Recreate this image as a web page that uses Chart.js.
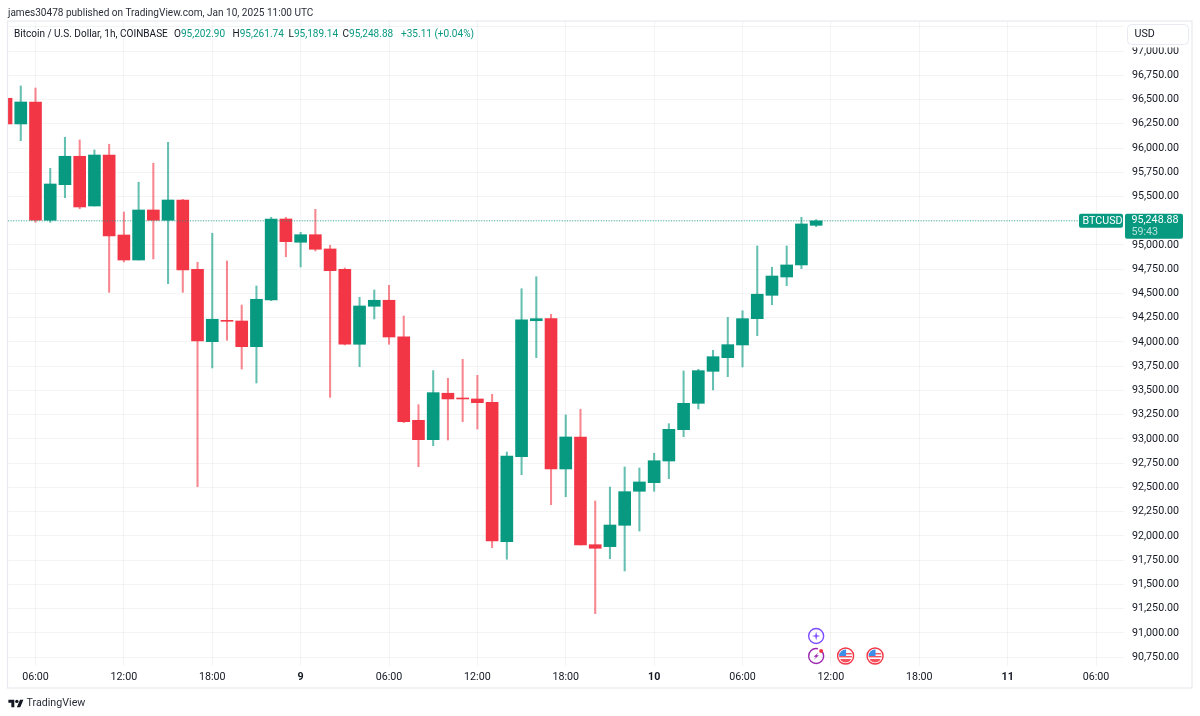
<!DOCTYPE html>
<html><head><meta charset="utf-8">
<script src="https://cdn.jsdelivr.net/npm/chart.js@4/dist/chart.umd.min.js"></script>
<style>
html,body{margin:0;padding:0;background:#fff;width:1200px;height:716px;overflow:hidden;font-family:Roboto,"Noto Sans",sans-serif;color:#131722}
canvas{position:absolute;left:0;top:0}
.t{position:absolute;white-space:nowrap;font-size:10.05px;line-height:14px}
.g{color:#089981}
</style></head><body>
<canvas id="c" width="1200" height="716"></canvas>
<div class="t" style="left:8px;top:5.5px;color:#2a2e39">james30478 published on TradingView.com, Jan 10, 2025 11:00 UTC</div>
<div class="t" style="left:14px;top:27px">Bitcoin / U.S. Dollar, 1h, COINBASE</div>
<div class="t" style="left:174px;top:27px">O<span class="g">95,202.90</span></div>
<div class="t" style="left:232.5px;top:27px">H<span class="g">95,261.74</span></div>
<div class="t" style="left:288.5px;top:27px">L<span class="g">95,189.14</span></div>
<div class="t" style="left:342.5px;top:27px">C<span class="g">95,248.88</span></div>
<div class="t g" style="left:401px;top:27px">+35.11 (+0.04%)</div>
<svg style="position:absolute;left:8px;top:698px" width="16" height="11" viewBox="0 0 36 26"><path fill="#131722" d="M14 22H7V11H0V4h14v18zM28 22h-8l7.5-18h8L28 22z"/><circle fill="#131722" cx="20" cy="8" r="4"/></svg>
<div class="t" style="left:26.5px;top:696px;font-size:10.7px;color:#2a2e39">TradingView</div>
<script>
const hours=[4,5,6,7,8,9,10,11,12,13,14,15,16,17,18,19,20,21,22,23,24,25,26,27,28,29,30,31,32,33,34,35,36,37,38,39,40,41,42,43,44,45,46,47,48,49,50,51,52,53,54,55,56,57,58,59];
const opens=[96513,96248,96475,95255,95622,95915,95402,95928,95103,94845,95361,95255,95464,94749,94003,94223,94216,93951,94433,95268,95028,95106,94959,94749,93976,94368,94430,94054,93192,92992,93471,93422,93412,93378,91940,92817,94219,94240,92690,93020,91909,91889,92109,92460,92549,92772,93095,93367,93697,93838,93969,94240,94481,94670,94794,95202.90];
const highs=[96513,96640,96619,95791,96111,96083,95980,96039,95340,95647,95843,96059,95471,94822,95121,94835,94381,94577,95286,95286,95131,95368,94997,94763,94461,94536,94584,94268,93353,93704,93625,93821,93656,93460,92865,94549,94673,94285,93247,93306,92360,92504,92711,92700,92852,93157,93701,93718,93914,94254,94322,94990,94770,94990,95286,95261.74];
const lows=[96248,96076,95234,95234,95488,95374,95402,94512,94825,94845,94856,94601,94512,92507,93732,94017,93721,93577,94426,94879,94773,94938,93429,93969,93745,94237,93976,93167,92714,92930,92989,93178,93102,91878,91759,92631,93838,92322,92404,91906,91198,91765,91638,92050,92460,92590,93023,93309,93505,93642,93742,94065,94384,94580,94756,95189.14];
const closes=[96248,96475,95255,95629,95915,95392,95928,95093,94845,95361,95255,95464,94742,94010,94234,94213,93951,94440,95268,95034,95106,94956,94735,93976,94371,94430,94051,93178,92992,93477,93412,93412,93374,91947,92824,94227,94240,92690,93020,91906,91872,92112,92456,92556,92775,93099,93367,93704,93848,93972,94240,94492,94680,94794,95217,95248.88];
const timeTickHours=[6,12,18,24,30,36,42,48,54,60,66,72,78];
const timeTickLabels=["06:00","12:00","18:00","9","06:00","12:00","18:00","10","06:00","12:00","18:00","11","06:00"];
const eventHours=[59,61,63];
const hiddenPriceLabels=[97250];
const lastPrice=95248.88, countdown="59:43", symbolTag="BTCUSD", currency="USD";
const xMin=4.133, xMax=79.9, yMin=90658, yMax=97310;
const UP="#089981", DOWN="#F23645", UPW="rgba(8,153,129,.62)", DOWNW="rgba(242,54,69,.6)";
const GRID="rgba(42,46,57,.055)", FRAME="#e8eaf1", TEXT="#131722";
const FONT="Roboto", FS=10.7;

const overlay={id:'overlay',afterDraw(ch){
  const c=ch.ctx, ya=ch.scales.y, xa=ch.scales.x, py=ya.getPixelForValue(lastPrice);
  c.save();
  // outer frame
  c.strokeStyle=FRAME;c.lineWidth=1.2;
  c.strokeRect(7.5,21,1184.5,667);
  // symbol tag
  const rr=(x,y,w,h,r)=>{c.beginPath();c.roundRect(x,y,w,h,r);};
  c.fillStyle=UP;rr(1079,py-7,44,14,2);c.fill();
  c.fillStyle="#fff";c.font=FS+"px "+FONT;c.textAlign="left";c.textBaseline="middle";
  c.fillText(symbolTag,1082.5,py+.5);
  // price tag
  c.fillStyle=UP;rr(1125,py-7,58,25,2);c.fill();
  c.fillStyle="#fff";c.fillText(lastPrice.toLocaleString('en-US',{minimumFractionDigits:2}),1131.5,py-.5);
  c.fillStyle="rgba(255,255,255,.7)";c.fillText(countdown,1131.5,py+11);
  // currency box
  c.fillStyle="#fff";c.fillRect(1126,22,65,25.5);
  c.strokeStyle="#e8eaf1";c.lineWidth=1;
  rr(1127.5,24.5,61,20,4);c.fill();c.stroke();
  c.fillStyle=TEXT;c.fillText(currency,1134.5,34.5);
  // events
  const xs=eventHours.map(h=>xa.getPixelForValue(h));
  // star
  c.strokeStyle="#7c4dff";c.lineWidth=1.4;c.beginPath();c.arc(xs[0],636,7.5,0,7);c.stroke();
  c.fillStyle="#7c4dff";c.beginPath();
  for(let i=0;i<8;i++){const r=i%2?1.2:4.4,a=i*Math.PI/4-Math.PI/2,X=xs[0]+r*Math.cos(a),Y=636+r*Math.sin(a);i?c.lineTo(X,Y):c.moveTo(X,Y);}
  c.closePath();c.fill();
  // bolt
  c.strokeStyle="#9c27b0";c.beginPath();c.arc(xs[0],656,7.5,-Math.PI*.25,Math.PI*1.75-.55);c.stroke();
  c.fillStyle="#9c27b0";c.beginPath();
  [[2.4,-3.6],[-2.6,.8],[-.2,.8],[-2.2,3.8],[2.8,-.8],[.4,-.8]].forEach((p,i)=>{i?c.lineTo(xs[0]+p[0],656+p[1]):c.moveTo(xs[0]+p[0],656+p[1]);});
  c.closePath();c.fill();
  c.fillStyle="#F23645";c.beginPath();c.arc(xs[0]+5,651,2,0,7);c.fill();
  // flags
  [xs[1],xs[2]].forEach(x=>{
    c.save();c.beginPath();c.arc(x,656,6.5,0,7);c.clip();
    c.fillStyle="#fff";c.fillRect(x-7,649,14,14);
    c.fillStyle="#F7525F";c.fillRect(x-7,653,14,1.4);c.fillRect(x-7,656,14,1.4);c.fillRect(x-7,659,14,4);
    c.fillStyle="#3d8ee8";c.fillRect(x-7,649,7.5,7);
    c.restore();
    c.strokeStyle="#F23645";c.lineWidth=1.4;c.beginPath();c.arc(x,656,8,0,7);c.stroke();
  });
  c.restore();
}};

new Chart(document.getElementById('c'),{
  type:'bar',
  data:{datasets:[
    {type:'bar',order:2,grouped:false,barThickness:1.4,
     data:hours.map((h,i)=>({x:h,y:[lows[i],highs[i]]})),
     backgroundColor:ctx=>closes[ctx.dataIndex]>=opens[ctx.dataIndex]?UPW:DOWNW},
    {type:'bar',order:1,grouped:false,barThickness:12,
     data:hours.map((h,i)=>({x:h,y:[opens[i],closes[i]]})),
     backgroundColor:ctx=>closes[ctx.dataIndex]>=opens[ctx.dataIndex]?UP:DOWN},
    {type:'line',order:0,data:[{x:xMin,y:lastPrice},{x:xMax-3.05,y:lastPrice}],
     borderColor:"rgba(8,153,129,.8)",borderWidth:1,borderDash:[1,1.6],pointRadius:0,fill:false}
  ]},
  plugins:[overlay],
  options:{
    responsive:false,animation:false,devicePixelRatio:1,
    layout:{padding:{left:8,top:21,right:8,bottom:28}},
    plugins:{legend:{display:false},tooltip:{enabled:false},title:{display:false}},
    scales:{
      x:{type:'linear',min:xMin,max:xMax,offset:false,
         border:{display:false},
         grid:{color:GRID,drawTicks:false,lineWidth:1,offset:false},
         afterFit(s){s.height=22;},
         afterBuildTicks(s){s.ticks=timeTickHours.map(v=>({value:v}));},
         ticks:{autoSkip:false,maxRotation:0,minRotation:0,padding:5,color:TEXT,
           font:ctx=>({family:FONT,size:FS,weight:(ctx.tick&&ctx.tick.value%24===0)?'700':'400'}),
           callback:v=>timeTickLabels[timeTickHours.indexOf(v)]}},
      y:{type:'linear',position:'right',min:yMin,max:yMax,
         border:{display:false},
         grid:{color:GRID,drawTicks:false,lineWidth:1},
         afterFit(s){s.width=68;},
         ticks:{stepSize:250,includeBounds:false,padding:8,color:TEXT,autoSkip:false,
           font:{family:FONT,size:FS},
           callback:v=>hiddenPriceLabels.includes(v)?'':v.toLocaleString('en-US',{minimumFractionDigits:2,maximumFractionDigits:2})}}
    }
  }
});
</script>
</body></html>
